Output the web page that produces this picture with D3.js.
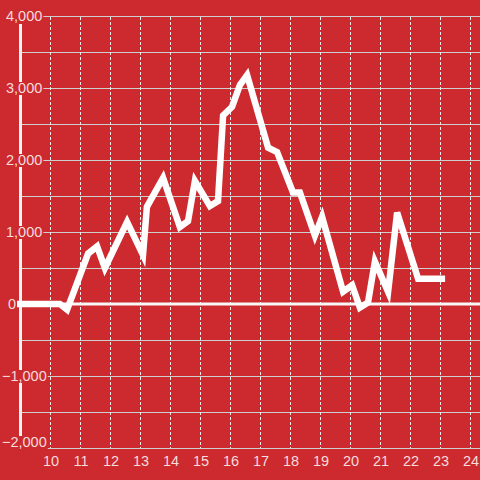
<!DOCTYPE html>
<html><head><meta charset="utf-8">
<script src="https://cdn.jsdelivr.net/npm/d3@7"></script>
<style>
html,body{margin:0;padding:0;background:#cc2a2f;}
svg{display:block;}
text{font-family:"Liberation Sans",Arial,sans-serif;}
</style></head>
<body>
<svg id="c" width="480" height="480"></svg>
<script>
const hours = [8.9,10.33,10.57,11.27,11.57,11.83,12.57,13.1,13.23,13.77,14.33,14.6,14.83,15.33,15.6,15.77,16.07,16.33,16.57,17.27,17.57,18.1,18.33,18.83,19.07,19.77,20.07,20.33,20.6,20.83,21.27,21.57,22.27,23.17];
const values = [0,0,-80,700,800,500,1140,680,1350,1750,1070,1150,1710,1360,1430,2620,2740,3040,3180,2170,2110,1550,1550,950,1210,170,260,-50,20,590,170,1270,350,350];
const xTicks = [10,11,12,13,14,15,16,17,18,19,20,21,22,23,24];
const yTicks = [4000,3000,2000,1000,0,-1000,-2000];
const yGrid = [4000,3500,3000,2500,2000,1500,1000,500,0,-500,-1000,-1500,-2000];

const bg = "#cc2a2f", fg = "#f6dcdc";
const svg = d3.select("#c");
const x = d3.scaleLinear().domain([10,24]).range([50,470]);
const y = d3.scaleLinear().domain([-2000,4000]).range([448,16]);

svg.append("rect").attr("width",480).attr("height",480).attr("fill",bg);

// horizontal grid
svg.append("g").selectAll("line").data(yGrid).join("line")
  .attr("x1",22).attr("x2",480)
  .attr("y1",d=>Math.round(y(d))+0.5).attr("y2",d=>Math.round(y(d))+0.5)
  .attr("stroke","#cfcfcf").attr("stroke-width",1.2);

// vertical dashed grid
svg.append("g").selectAll("line").data(xTicks).join("line")
  .attr("x1",d=>x(d)+0.5).attr("x2",d=>x(d)+0.5)
  .attr("y1",17).attr("y2",448)
  .attr("stroke","#eeeeee").attr("stroke-width",1).attr("stroke-dasharray","3,2");

// y axis line
svg.append("line").attr("x1",20.5).attr("x2",20.5).attr("y1",24).attr("y2",437)
  .attr("stroke","#f4f4f4").attr("stroke-width",3);

// zero line
svg.append("line").attr("x1",19).attr("x2",480).attr("y1",y(0)).attr("y2",y(0))
  .attr("stroke","#f8f8f8").attr("stroke-width",3);

// y labels with background
const yl = svg.append("g").selectAll("g").data(yTicks).join("g");
yl.append("text")
  .attr("x",d=>d<0?2:(d===0?8:6)).attr("y",d=>Math.min(y(d),442)+5)
  .attr("text-anchor","start").attr("font-size",14.5).attr("fill",fg)
  .text(d=>d3.format(",")(d));
yl.each(function(d){
  if(d===0) return;
  const t = d3.select(this).select("text");
  const b = t.node().getBBox();
  d3.select(this).insert("rect","text")
    .attr("x",b.x-1).attr("y",b.y+2).attr("width",b.width+2).attr("height",b.height-3)
    .attr("fill",bg);
});

// x labels
svg.append("g").selectAll("text").data(xTicks).join("text")
  .attr("x",d=>x(d)+1).attr("y",466)
  .attr("text-anchor","middle").attr("font-size",14.5).attr("fill",fg)
  .text(d=>d);

// data line
const pts = hours.map((h,i)=>[h,values[i]]);
svg.append("path").datum(pts)
  .attr("fill","none").attr("stroke","#ffffff").attr("stroke-width",6.5)
  .attr("stroke-linejoin","miter")
  .attr("d",d3.line().x(d=>x(d[0])).y(d=>y(d[1])));
</script>
</body></html>
